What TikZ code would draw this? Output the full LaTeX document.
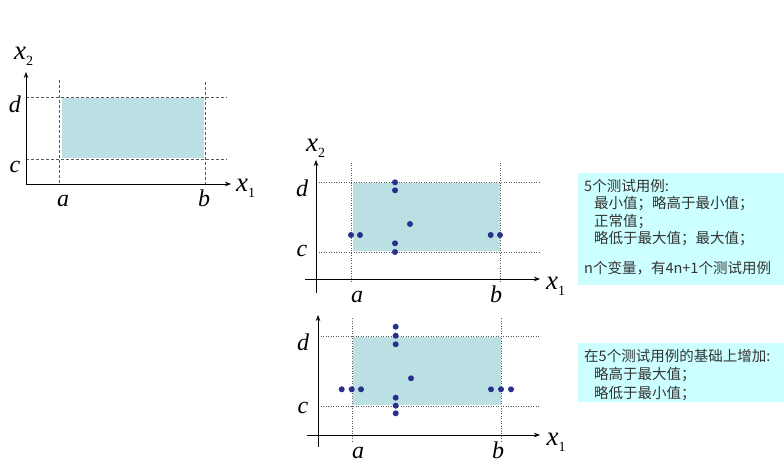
\documentclass[tikz,border=0pt]{standalone}
\usepackage{fontspec}
\usepackage{tikz}
\newfontfamily\cjk{Noto Sans CJK SC}
\newfontfamily\tms{Liberation Serif}
\usetikzlibrary{arrows.meta}
\definecolor{regionblue}{HTML}{BBE0E3}
\definecolor{notecyan}{HTML}{CCFFFF}
\definecolor{dotblue}{HTML}{2A2F8C}
\newcommand{\sublbl}[2]{{\fontsize{27}{28}\selectfont #1}\raisebox{-6pt}{\upshape\fontsize{14}{14}\selectfont #2}}
\begin{document}
\begin{tikzpicture}[x=1pt, y=-1pt,
    axis/.style={{Stealth[length=6pt,width=4.5pt]}-{Stealth[length=6pt,width=4.5pt]}, line width=0.7pt},
    oneaxis/.style={-{Stealth[length=6pt,width=4.5pt]}, line width=0.7pt},
    dashguide/.style={gray!70!black, line width=0.5pt, dash pattern=on 3pt off 2pt},
    dotguide/.style={gray!70!black, line width=0.5pt, dash pattern=on 1pt off 1.5pt},
    region/.style={fill=regionblue, draw=none},
    tcase/.style={circle, fill=dotblue, inner sep=0pt, minimum size=6pt},
    lbl/.style={font=\tms\itshape\fontsize{24}{26}\selectfont, inner sep=0pt, anchor=base},
    sublbl/.style={lbl, anchor=base west},
    note/.style={fill=notecyan, anchor=north west, inner sep=6pt, text=black!80, font=\cjk\fontsize{14.5}{17.5}\selectfont}]

    \useasboundingbox (0,0) rectangle (784,462);

    % domain only
    \fill[region] (62,98) rectangle (204,158);
    \draw[dashguide] (59,80) -- (59,184) (205,82) -- (205,187) (26,97) -- (227,97) (26,159) -- (227,159);
    \draw[axis] (26,72) -- (26,184) -- (231,184);
    \node[sublbl] (x2A) at (14,59.5) {\sublbl{x}{2}};
    \node[lbl] (dA) at (15,113) {d};
    \node[lbl] (cA) at (15,173) {c};
    \node[lbl] (aA) at (63,206.5) {a};
    \node[lbl] (bA) at (204,206.5) {b};
    \node[sublbl] (x1A) at (236,191.5) {\sublbl{x}{1}};

    % boundary value cases
    \fill[region] (353,183) rectangle (500,251);
    \draw[dotguide] (351,163) -- (351,282) (500,163) -- (500,282) (316,182) -- (540,182) (316,252) -- (540,252);
    \draw[oneaxis] (316,293) -- (316,160);
    \draw[oneaxis] (305,279) -- (540,279);
    \foreach \x/\y [count=\i] in {395/182.3, 395/190.3, 410/224, 351/235, 360/235, 395/243.3, 395/252, 490.7/235, 500/235}
        \node[tcase] (m\i) at (\x,\y) {};
    \node[sublbl] (x2B) at (306,151.5) {\sublbl{x}{2}};
    \node[lbl] (dB) at (302,196.5) {d};
    \node[lbl] (cB) at (302,256.5) {c};
    \node[lbl] (aB) at (357,302) {a};
    \node[lbl] (bB) at (496,302) {b};
    \node[sublbl] (x1B) at (546,289.5) {\sublbl{x}{1}};

    % robustness cases
    \fill[region] (353,337) rectangle (501,405);
    \draw[dotguide] (352,318) -- (352,443) (501,318) -- (501,443) (318,336) -- (540,336) (318,406) -- (540,406);
    \draw[oneaxis] (318,447) -- (318,315);
    \draw[oneaxis] (307,435) -- (540,435);
    \foreach \x/\y [count=\i] in {395.7/326.7, 395.7/335.7, 395.7/344.3, 411/378.3, 341.7/389.3, 351.7/389.3, 361/389.3, 395.7/397.7, 395.7/405.7, 395.7/413.3, 491/389.3, 501/389.3, 511/389.3}
        \node[tcase] (r\i) at (\x,\y) {};
    \node[lbl] (dC) at (303,350) {d};
    \node[lbl] (cC) at (303,413) {c};
    \node[lbl] (aC) at (358,458) {a};
    \node[lbl] (bC) at (498,458) {b};
    \node[sublbl] (x1C) at (546.5,445.5) {\sublbl{x}{1}};

    \node[note] (N1) at (578,173) {\parbox[t][100pt][t]{195pt}{5个测试用例:\\
        \hspace*{10pt}最小值；略高于最小值；\\
        \hspace*{10pt}正常值；\\
        \hspace*{10pt}略低于最大值；最大值；\\[12pt]
        n个变量，有4n+1个测试用例}};
    \node[note] (N2) at (578,343) {\parbox[t][47pt][t]{195pt}{在5个测试用例的基础上增加:\\[1pt]
        \hspace*{10pt}略高于最大值；\\[1pt]
        \hspace*{10pt}略低于最小值；}};
\end{tikzpicture}
\end{document}
